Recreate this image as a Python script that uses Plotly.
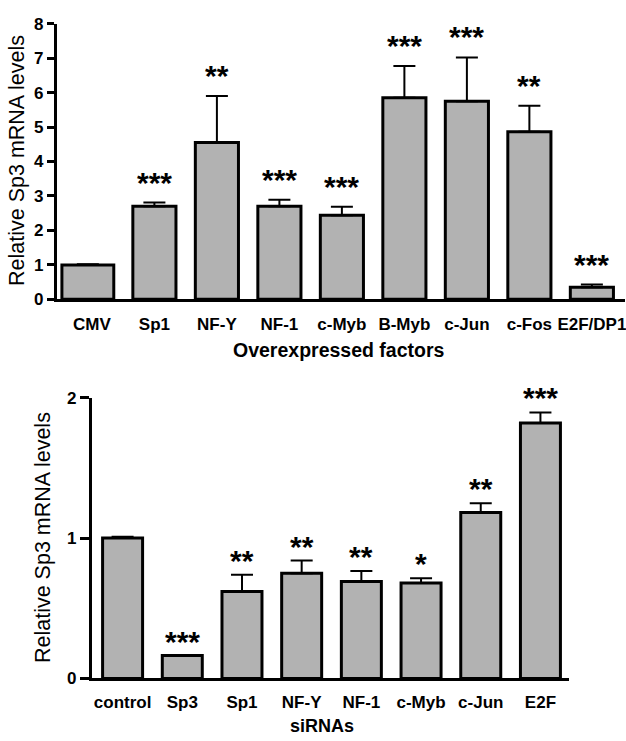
import plotly.graph_objects as go

# Panel A: overexpression of transcription factors
factors = ["CMV", "Sp1", "NF-Y", "NF-1", "c-Myb", "B-Myb", "c-Jun", "c-Fos", "E2F/DP1"]
factor_means = [1.0, 2.70, 4.55, 2.70, 2.44, 5.85, 5.75, 4.86, 0.35]
factor_sem = [0.02, 0.11, 1.35, 0.19, 0.25, 0.92, 1.27, 0.76, 0.08]
factor_sig = ["", "***", "**", "***", "***", "***", "***", "**", "***"]

# Panel B: siRNA knock-down
sirnas = ["control", "Sp3", "Sp1", "NF-Y", "NF-1", "c-Myb", "c-Jun", "E2F"]
sirna_means = [1.0, 0.163, 0.62, 0.75, 0.69, 0.68, 1.183, 1.82]
sirna_sem = [0.01, 0.0, 0.118, 0.09, 0.075, 0.033, 0.065, 0.075]
sirna_sig = ["", "***", "**", "**", "**", "*", "**", "***"]

W, H = 626, 741
FONT = "Liberation Sans, Arial, Helvetica, sans-serif"
BAR_FILL = "#b2b2b2"


def px_x(p):
    return p / W


def px_y(p):
    return 1 - p / H


fig = go.Figure()

err_style = dict(type="data", symmetric=False, color="black", thickness=2, width=11)

fig.add_trace(go.Bar(
    x=factors, y=factor_means, xaxis="x", yaxis="y",
    width=[0.83] + [0.69] * (len(factors) - 1),
    offset=[-0.48] + [-0.345] * (len(factors) - 1),
    marker=dict(color=BAR_FILL, line=dict(color="black", width=3)),
    error_y=dict(array=factor_sem, arrayminus=[0] * len(factors), **err_style),
    showlegend=False,
))

fig.add_trace(go.Bar(
    x=sirnas, y=sirna_means, xaxis="x2", yaxis="y2",
    width=0.67,
    marker=dict(color=BAR_FILL, line=dict(color="black", width=3)),
    error_y=dict(array=sirna_sem, arrayminus=[0] * len(sirnas), **err_style),
    showlegend=False,
))

star_font = dict(family=FONT, size=30, color="black")
annotations = []
for cat, m, e, s in zip(factors, factor_means, factor_sem, factor_sig):
    if s:
        annotations.append(dict(x=cat, y=m + e, xref="x", yref="y", text="<b>" + s + "</b>",
                                showarrow=False, yanchor="bottom", yshift=2, font=star_font))
for cat, m, e, s in zip(sirnas, sirna_means, sirna_sem, sirna_sig):
    if s:
        annotations.append(dict(x=cat, y=m + e, xref="x2", yref="y2", text="<b>" + s + "</b>",
                                showarrow=False, yanchor="bottom", yshift=-4, font=star_font))

# axis titles
annotations.append(dict(x=px_x(340), y=px_y(350), xref="paper", yref="paper",
                        xanchor="center", yanchor="middle",
                        text="<b>Overexpressed factors</b>", showarrow=False,
                        font=dict(family=FONT, size=19.5, color="black")))
annotations.append(dict(x=px_x(323), y=0, xref="paper", yref="paper",
                        xanchor="center", yanchor="bottom", yshift=-7,
                        text="<b>siRNAs</b>", showarrow=False,
                        font=dict(family=FONT, size=18, color="black")))
ytitle_font = dict(family=FONT, size=21.5, color="black")
annotations.append(dict(x=px_x(17), y=px_y(155), xref="paper", yref="paper",
                        xanchor="center", yanchor="middle",
                        text="Relative Sp3 mRNA levels", showarrow=False, textangle=-90,
                        font=ytitle_font))
annotations.append(dict(x=px_x(43), y=px_y(542), xref="paper", yref="paper",
                        xanchor="center", yanchor="middle",
                        text="Relative Sp3 mRNA levels", showarrow=False, textangle=-90,
                        font=ytitle_font))

axis_common = dict(showline=True, linecolor="black", linewidth=3, showgrid=False,
                   zeroline=False, tickfont=dict(family=FONT, size=17, color="black"),
                   tickprefix="<b>", ticksuffix="</b>")

fig.update_layout(
    width=W, height=H,
    margin=dict(l=0, r=0, t=0, b=0),
    paper_bgcolor="white", plot_bgcolor="white",
    annotations=annotations,
    xaxis=dict(domain=[px_x(57), 1.0], range=[-0.56, 8.53], anchor="y",
               ticks="", ticklabelstandoff=7, **axis_common),
    yaxis=dict(domain=[px_y(298), px_y(15)], range=[0, 8], anchor="x",
               ticks="outside", ticklen=7, tickwidth=3, tickcolor="black",
               dtick=1, **axis_common),
    xaxis2=dict(domain=[px_x(92), px_x(570)], range=[-0.515, 7.48], anchor="y2",
                ticks="", ticklabelstandoff=6, **axis_common),
    yaxis2=dict(domain=[px_y(687), px_y(399)], range=[0, 2], anchor="x2",
                ticks="outside", ticklen=9, tickwidth=3, tickcolor="black",
                dtick=1, **axis_common),
)

fig.write_html("out.html")
